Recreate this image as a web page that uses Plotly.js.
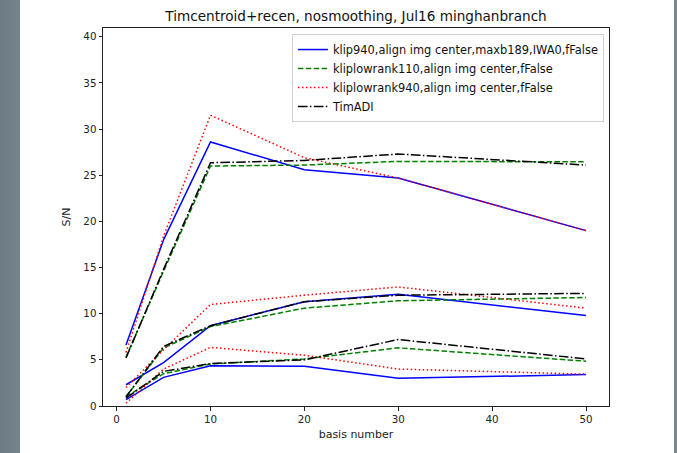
<!DOCTYPE html>
<html>
<head>
<meta charset="utf-8">
<script src="https://cdn.plot.ly/plotly-3.0.1.min.js"></script>
<style>
  html, body { margin: 0; padding: 0; }
  body {
    width: 677px; height: 453px; overflow: hidden;
    background: linear-gradient(to right, #6d7c85 0px, #75848c 20px, #ffffff 20px, #ffffff 674px, #7a878e 674px);
  }
  #chart { width: 677px; height: 453px; }
</style>
</head>
<body>
<div id="chart"></div>
<script>
// basis numbers (KL modes) on the x axis
const basisNumbers = [1, 5, 10, 20, 30, 50];

// S/N curves, three separations per reduction (high / middle / low)
const klip940Hi = [6.6, 18.0, 28.6, 25.6, 24.7, 19.0];
const klip940Mid = [2.3, 4.7, 8.7, 11.3, 12.1, 9.8];
const klip940Lo = [0.7, 3.1, 4.35, 4.3, 3.0, 3.4];

const lowrank110Hi = [5.3, 14.6, 26.0, 26.1, 26.5, 26.45];
const lowrank110Mid = [1.0, 6.3, 8.6, 10.6, 11.4, 11.75];
const lowrank110Lo = [1.0, 3.5, 4.55, 5.1, 6.3, 4.85];

const lowrank940Hi = [5.8, 18.4, 31.5, 26.9, 24.7, 19.0];
const lowrank940Mid = [2.0, 6.1, 11.0, 12.0, 12.9, 10.6];
const lowrank940Lo = [0.3, 4.0, 6.35, 5.5, 4.0, 3.45];

const timAdiHi = [5.2, 14.8, 26.35, 26.6, 27.3, 26.1];
const timAdiMid = [1.0, 6.45, 8.7, 11.3, 12.0, 12.2];
const timAdiLo = [0.85, 3.75, 4.6, 5.0, 7.2, 5.1];

const seriesNames = [
  'klip940,align img center,maxb189,IWA0,fFalse',
  'kliplowrank110,align img center,fFalse',
  'kliplowrank940,align img center,fFalse',
  'TimADI'
];

const styles = [
  { color: '#0000ff', dash: 'solid' },
  { color: '#008000', dash: '5.5px,2.4px' },
  { color: '#ff0000', dash: '1.5px,2.5px' },
  { color: '#000000', dash: '9.6px,2.4px,1.5px,2.4px' }
];

const groups = [
  [klip940Hi, klip940Mid, klip940Lo],
  [lowrank110Hi, lowrank110Mid, lowrank110Lo],
  [lowrank940Hi, lowrank940Mid, lowrank940Lo],
  [timAdiHi, timAdiMid, timAdiLo]
];

const traces = [];
groups.forEach((set, i) => {
  set.forEach((ys, j) => {
    traces.push({
      x: basisNumbers,
      y: ys,
      type: 'scatter',
      mode: 'lines',
      name: seriesNames[i],
      legendgroup: 'g' + i,
      showlegend: j === 0,
      line: { color: styles[i].color, dash: styles[i].dash, width: 1.5 }
    });
  });
});

const axisCommon = {
  showgrid: false,
  zeroline: false,
  showline: true,
  mirror: true,
  linecolor: '#222222',
  linewidth: 1,
  ticks: 'outside',
  ticklen: 3.5,
  tickwidth: 1,
  tickcolor: '#222222',
  tickfont: { family: 'DejaVu Sans', size: 10.3, color: '#222222' }
};

const layout = {
  width: 677,
  height: 453,
  paper_bgcolor: 'rgba(0,0,0,0)',
  plot_bgcolor: '#ffffff',
  margin: { l: 103, r: 68, t: 28, b: 47 },
  font: { family: 'DejaVu Sans', color: '#222222' },
  title: {
    text: 'Timcentroid+recen, nosmoothing, Jul16 minghanbranch',
    font: { family: 'DejaVu Sans', size: 13.6, color: '#111111' },
    x: (103 + 609) / 2 / 677,
    xanchor: 'center',
    y: 1 - 16 / 453,
    yanchor: 'middle'
  },
  xaxis: Object.assign({}, axisCommon, {
    range: [-1.45, 52.45],
    tickvals: [0, 10, 20, 30, 40, 50],
    title: { text: 'basis number', font: { family: 'DejaVu Sans', size: 11, color: '#222222' }, standoff: 6 }
  }),
  yaxis: Object.assign({}, axisCommon, {
    range: [0, 40.95],
    tickvals: [0, 5, 10, 15, 20, 25, 30, 35, 40],
    title: { text: 'S/N', font: { family: 'DejaVu Sans', size: 11, color: '#222222' }, standoff: 10 }
  }),
  legend: {
    x: 0.99,
    xanchor: 'right',
    y: 0.984,
    yanchor: 'top',
    bgcolor: 'rgba(255,255,255,0.85)',
    bordercolor: '#d0d0d0',
    borderwidth: 1,
    font: { family: 'DejaVu Sans', size: 11.4, color: '#111111' },
    tracegroupgap: 0,
    itemwidth: 30
  },
  showlegend: true
};

Plotly.newPlot('chart', traces, layout, { displayModeBar: false, staticPlot: true });
</script>
</body>
</html>
